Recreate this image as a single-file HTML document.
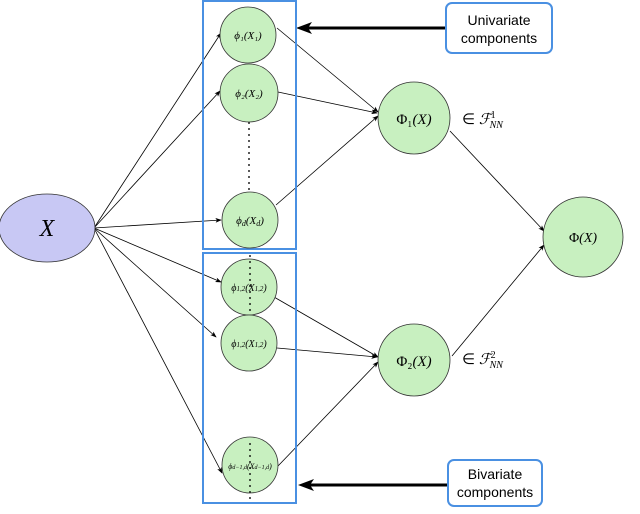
<!DOCTYPE html>
<html><head><style>body{margin:0;background:#fff}svg text{font-family:"Liberation Serif",serif}svg text.s{font-family:"Liberation Sans",sans-serif}</style></head><body>
<svg width="640" height="509" viewBox="0 0 640 509" xmlns="http://www.w3.org/2000/svg">
<defs><marker id="a" markerWidth="8" markerHeight="6" refX="7" refY="3" orient="auto"><path d="M0,0 L8,3 L0,6 L2,3z" fill="#000"/></marker></defs>
<g stroke="#000" stroke-width="0.8" fill="none" marker-end="url(#a)">
<line x1="94" y1="228" x2="221" y2="33"/>
<line x1="94" y1="228" x2="220" y2="91"/>
<line x1="94" y1="228" x2="221" y2="220"/>
<line x1="94" y1="228" x2="221" y2="282"/>
<line x1="94" y1="228" x2="216" y2="337"/>
<line x1="94" y1="228" x2="222" y2="473"/>
<line x1="277" y1="28" x2="378" y2="112"/>
<line x1="278" y1="92" x2="377" y2="113"/>
<line x1="276" y1="205" x2="378" y2="116"/>
<line x1="274" y1="297" x2="378" y2="357"/>
<line x1="277" y1="348" x2="377" y2="357"/>
<line x1="278" y1="466" x2="378" y2="362"/>
<line x1="450" y1="131" x2="544" y2="231"/>
<line x1="452" y1="356" x2="544" y2="245"/>
</g>
<g stroke="#000" stroke-width="3" fill="none">
<line x1="446" y1="28" x2="308" y2="28"/><line x1="448" y1="485" x2="310" y2="485"/></g>
<path d="M296,28 L312,22 L308,28 L312,34z M298,485 L314,479 L310,485 L314,491z" fill="#000"/>
<rect x="203" y="1" width="93" height="248" fill="none" stroke="#4a90e2" stroke-width="2"/>
<rect x="203" y="253" width="93" height="250" fill="none" stroke="#4a90e2" stroke-width="2"/>
<rect x="446" y="3" width="106" height="50" rx="6" fill="#fff" stroke="#4a90e2" stroke-width="2"/>
<rect x="448" y="460" width="94" height="46" rx="6" fill="#fff" stroke="#4a90e2" stroke-width="2"/>
<g font-size="14" text-anchor="middle" fill="#000">
<text class="s" x="499" y="25">Univariate</text><text class="s" x="499" y="43">components</text>
<text class="s" x="495" y="479">Bivariate</text><text class="s" x="495" y="497">components</text></g>
<g fill="#c8f0c0" stroke="#333" stroke-width="0.8">
<ellipse cx="47" cy="228" rx="48" ry="34" fill="#c8c8f4"/>
<circle cx="248" cy="35" r="28"/><circle cx="249" cy="93" r="29"/><circle cx="250" cy="220" r="28"/>
<circle cx="249" cy="287" r="28"/><circle cx="249" cy="343" r="28"/><circle cx="250" cy="465" r="28"/>
<circle cx="414" cy="118" r="36"/><circle cx="414" cy="360" r="36"/><circle cx="583" cy="237" r="40"/></g>
<g stroke="#000" stroke-width="1.3" stroke-dasharray="2,4">
<line x1="249" y1="122" x2="249" y2="192"/><line x1="250" y1="255" x2="250" y2="312"/><line x1="250" y1="443" x2="250" y2="500"/></g>
<g text-anchor="middle" fill="#000" font-style="italic">
<text x="47" y="236" font-size="24">X</text>
<text x="248" y="39" font-size="11">ϕ₁(X₁)</text>
<text x="249" y="97" font-size="11">ϕ₂(X₂)</text>
<text x="250" y="224" font-size="11">ϕ<tspan font-size="8" dy="2">d</tspan><tspan dy="-2">(X</tspan><tspan font-size="8" dy="2">d</tspan><tspan dy="-2">)</tspan></text>
<text x="249" y="291" font-size="10">ϕ<tspan font-size="7">1,2</tspan>(X<tspan font-size="7">1,2</tspan>)</text>
<text x="249" y="347" font-size="10">ϕ<tspan font-size="7">1,2</tspan>(X<tspan font-size="7">1,2</tspan>)</text>
<text x="250" y="469" font-size="8">ϕ<tspan font-size="6">d−1,d</tspan>(X<tspan font-size="6">d−1,d</tspan>)</text>
<text x="414" y="124" font-size="15"><tspan font-style="normal">Φ₁</tspan>(X)</text>
<text x="414" y="366" font-size="15"><tspan font-style="normal">Φ₂</tspan>(X)</text>
<text x="583" y="242" font-size="14"><tspan font-style="normal">Φ</tspan>(X)</text></g>
<g fill="#000" font-size="15">
<text x="462" y="124">∈ <tspan font-style="italic">ℱ</tspan><tspan font-size="10" dy="-6">1</tspan><tspan font-size="10" dx="-6" dy="10" font-style="italic">NN</tspan></text>
<text x="462" y="364">∈ <tspan font-style="italic">ℱ</tspan><tspan font-size="10" dy="-6">2</tspan><tspan font-size="10" dx="-6" dy="10" font-style="italic">NN</tspan></text></g>
</svg></body></html>
